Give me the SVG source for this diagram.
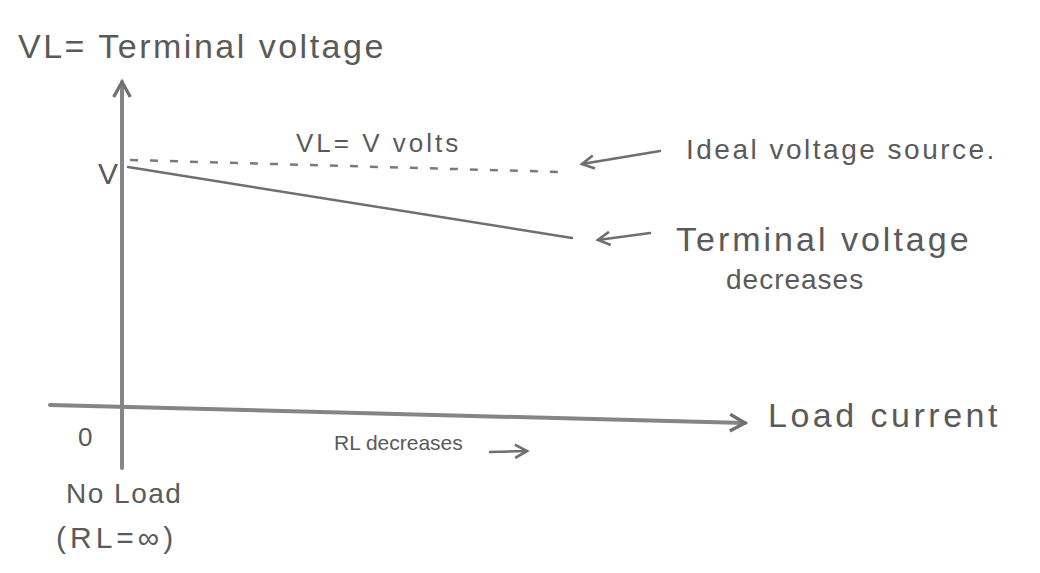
<svg xmlns="http://www.w3.org/2000/svg" width="1040" height="573" viewBox="0 0 1040 573">
<style>
.ax{stroke:#858585;stroke-width:4;fill:none;stroke-linecap:round}
.ln{stroke:#6f6f6f;stroke-width:2.5;fill:none;stroke-linecap:round}
.ds{stroke:#7a7a7a;stroke-width:2.5;fill:none;stroke-dasharray:8 12}
text{font-family:"Liberation Sans",Arial,sans-serif;fill:#5a5a5a}
</style>
<defs>
<marker id="ah" viewBox="0 0 12 12" refX="10" refY="6" markerWidth="16" markerHeight="16" markerUnits="userSpaceOnUse" orient="auto">
<path d="M1,1 L10,6 L1,11" fill="none" stroke="#6f6f6f" stroke-width="2"/>
</marker>
<marker id="ahb" viewBox="0 0 12 12" refX="10" refY="6" markerWidth="20" markerHeight="20" markerUnits="userSpaceOnUse" orient="auto">
<path d="M1,1 L10,6 L1,11" fill="none" stroke="#707070" stroke-width="2"/>
</marker>
</defs>
<rect width="1040" height="573" fill="#ffffff"/>
<g id="axes">
<line class="ax" x1="122" y1="468" x2="122" y2="82" marker-end="url(#ahb)"/>
<line class="ax" x1="50" y1="405" x2="745" y2="423" marker-end="url(#ahb)"/>
</g>
<g id="connectors">
<line class="ds" x1="130" y1="160" x2="562" y2="172"/>
<line class="ln" x1="128" y1="167" x2="572" y2="238"/>
<line class="ln" x1="660" y1="151" x2="582" y2="164" marker-end="url(#ah)"/>
<line class="ln" x1="650" y1="233" x2="598" y2="240" marker-end="url(#ah)"/>
<line class="ln" x1="490" y1="452" x2="527" y2="451" marker-end="url(#ah)"/>
</g>
<g id="labels">
<text x="18" y="58" font-size="34" letter-spacing="2.5">VL= Terminal voltage</text>
<text x="98" y="184" font-size="30">V</text>
<text x="296" y="152" font-size="26" letter-spacing="3">VL= V volts</text>
<text x="686" y="159" font-size="28" letter-spacing="2.5">Ideal voltage source.</text>
<text x="676" y="251" font-size="34" letter-spacing="3">Terminal voltage</text>
<text x="726" y="289" font-size="28" letter-spacing="1">decreases</text>
<text x="78" y="446" font-size="26">0</text>
<text x="334" y="450" font-size="21">RL decreases</text>
<text x="768" y="427" font-size="34" letter-spacing="3.5">Load current</text>
<text x="66" y="503" font-size="28" letter-spacing="1.5">No Load</text>
<text x="56" y="548" font-size="30" letter-spacing="4">(RL=∞)</text>
</g>
</svg>
